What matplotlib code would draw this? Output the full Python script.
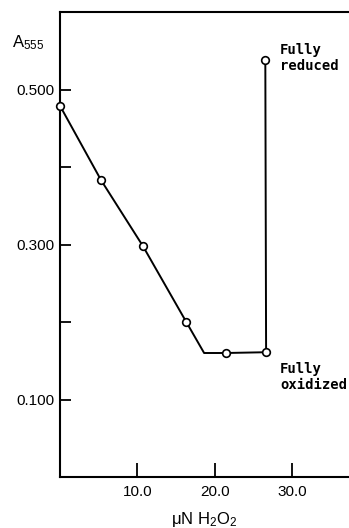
import matplotlib
matplotlib.use("Agg")
import matplotlib.pyplot as plt

# titration curve
conc = [0.0, 5.3, 10.7, 16.3, 18.6, 21.4, 26.6, 26.5]
a555 = [0.479, 0.383, 0.298, 0.200, 0.160, 0.160, 0.161, 0.538]
# points drawn with an open circle (the kink at 18.6 has none)
mark_x = [0.0, 5.3, 10.7, 16.3, 21.4, 26.6, 26.5]
mark_y = [0.479, 0.383, 0.298, 0.200, 0.160, 0.161, 0.538]

yticks = [0.1, 0.2, 0.3, 0.4, 0.5]
ytick_labels = ["0.100", "", "0.300", "", "0.500"]
xticks = [10, 20, 30]
xtick_labels = ["10.0", "20.0", "30.0"]

plt.rcParams["font.family"] = ["Liberation Sans", "DejaVu Sans"]
plt.rcParams["mathtext.default"] = "regular"

fig = plt.figure(figsize=(3.49, 5.28), dpi=100)
ax = fig.add_axes([60 / 349, 1 - 477 / 528, 1 - 60 / 349, (477 - 12) / 528])

ax.plot(conc, a555, color="black", lw=1.4)
ax.plot(mark_x, mark_y, "o", ms=5.5, mfc="white", mec="black", mew=1.2,
        clip_on=False, zorder=3)

ax.set_xlim(0, 37.3)
ax.set_ylim(0, 0.6)
ax.set_yticks(yticks)
ax.set_yticklabels(ytick_labels, fontsize=11)
ax.set_xticks(xticks)
ax.set_xticklabels(xtick_labels, fontsize=11)
ax.tick_params(direction="in", width=1.3, color="black")
ax.tick_params(axis="y", length=8, pad=4)
ax.tick_params(axis="x", length=10, pad=6)

ax.spines["right"].set_visible(False)
for side in ("left", "top", "bottom"):
    ax.spines[side].set_linewidth(1.5)

ax.set_xlabel("\u03bcN H$_2$O$_2$", fontsize=12, labelpad=8)

fig.text(12 / 349, 1 - 47 / 528, "A$_{555}$", fontsize=12, va="baseline")
mono = dict(family="DejaVu Sans Mono", fontsize=10, fontweight="bold",
            linespacing=1.1, va="center", ha="left")
fig.text(280 / 349, 1 - 58 / 528, "Fully\nreduced", **mono)
fig.text(280 / 349, 1 - 377 / 528, "Fully\noxidized", **mono)

fig.savefig("out.png", dpi=100)
plt.close(fig)
